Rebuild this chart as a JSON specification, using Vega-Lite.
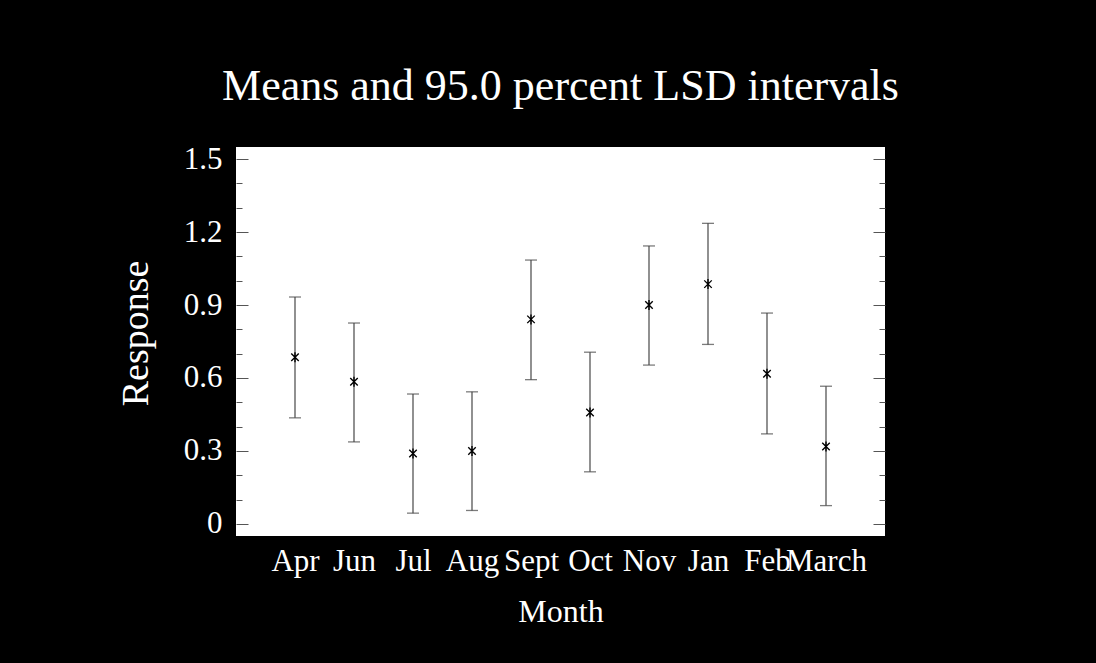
{
  "$schema": "https://vega.github.io/schema/vega-lite/v6.json",
  "autosize": "none",
  "width": 649,
  "height": 389,
  "padding": {"left": 236, "top": 147, "right": 211, "bottom": 127},
  "background": "black",
  "title": {
    "text": "Means and 95.0 percent LSD intervals",
    "font": "Liberation Serif",
    "fontSize": 44,
    "fontWeight": "normal",
    "color": "white",
    "anchor": "middle",
    "baseline": "alphabetic",
    "offset": -1
  },
  "config": {
    "view": {"fill": "white", "stroke": null},
    "axis": {"grid": false, "labelFont": "Liberation Serif", "titleFont": "Liberation Serif", "titleFontWeight": "normal"}
  },
  "data": {
    "values": [
      {"Month": "Apr", "mean": 0.685, "lower": 0.436, "upper": 0.933},
      {"Month": "Jun", "mean": 0.584, "lower": 0.337, "upper": 0.826},
      {"Month": "Jul", "mean": 0.289, "lower": 0.044, "upper": 0.534},
      {"Month": "Aug", "mean": 0.300, "lower": 0.055, "upper": 0.543},
      {"Month": "Sept", "mean": 0.841, "lower": 0.593, "upper": 1.085},
      {"Month": "Oct", "mean": 0.458, "lower": 0.214, "upper": 0.706},
      {"Month": "Nov", "mean": 0.900, "lower": 0.653, "upper": 1.143},
      {"Month": "Jan", "mean": 0.986, "lower": 0.738, "upper": 1.236},
      {"Month": "Feb", "mean": 0.617, "lower": 0.370, "upper": 0.867},
      {"Month": "March", "mean": 0.318, "lower": 0.075, "upper": 0.566}
    ]
  },
  "encoding": {
    "x": {
      "field": "Month",
      "type": "nominal",
      "sort": null,
      "scale": {"type": "point", "padding": 1.34},
      "axis": {
        "title": "Month",
        "labelAngle": 0,
        "labelColor": "white",
        "labelFontSize": 31,
        "labelPadding": 10,
        "labelOverlap": false,
        "labelBaseline": "top",
        "ticks": false,
        "domain": false,
        "titleColor": "white",
        "titleFontSize": 32,
        "titlePadding": 20
      }
    }
  },
  "layer": [
    {
      "mark": {"type": "rule", "color": "#555555", "strokeWidth": 1.3},
      "encoding": {
        "y": {
          "field": "lower",
          "type": "quantitative",
          "scale": {"domain": [-0.05, 1.55], "nice": false, "zero": false},
          "axis": {
            "orient": "left",
            "values": [0, 0.3, 0.6, 0.9, 1.2, 1.5],
            "labelExpr": "datum.value == 0 ? '0' : format(datum.value, '.1f')",
            "tickSize": -12,
            "tickColor": "#555555",
            "domain": false,
            "labelColor": "white",
            "labelFontSize": 31,
            "labelPadding": 26,
            "labelBaseline": "middle",
            "title": "Response",
            "titleColor": "white",
            "titleFontSize": 38,
            "titlePadding": 28,
            "titleY": 186
          }
        },
        "y2": {"field": "upper"}
      }
    },
    {
      "mark": {"type": "tick", "color": "#444444", "thickness": 1.3, "size": 12, "orient": "horizontal"},
      "encoding": {
        "y": {
          "field": "upper",
          "type": "quantitative",
          "scale": {"domain": [-0.05, 1.55], "nice": false, "zero": false},
          "axis": {
            "orient": "left",
            "values": [0.1, 0.2, 0.4, 0.5, 0.7, 0.8, 1.0, 1.1, 1.3, 1.4],
            "labels": false,
            "tickSize": -6,
            "tickColor": "#555555",
            "domain": false,
            "title": null
          }
        }
      }
    },
    {
      "mark": {"type": "tick", "color": "#444444", "thickness": 1.3, "size": 12, "orient": "horizontal"},
      "encoding": {
        "y": {
          "field": "lower",
          "type": "quantitative",
          "scale": {"domain": [-0.05, 1.55], "nice": false, "zero": false},
          "axis": {
            "orient": "right",
            "values": [0, 0.3, 0.6, 0.9, 1.2, 1.5],
            "labels": false,
            "tickSize": -12,
            "tickColor": "#555555",
            "domain": false,
            "title": null
          }
        }
      }
    },
    {
      "mark": {"type": "point", "shape": "M0,-1L0,1M-0.75,-0.75L0.75,0.75M-0.75,0.75L0.75,-0.75", "color": "black", "strokeWidth": 1.4, "size": 100, "filled": false, "opacity": 1},
      "encoding": {
        "y": {
          "field": "mean",
          "type": "quantitative",
          "scale": {"domain": [-0.05, 1.55], "nice": false, "zero": false},
          "axis": {
            "orient": "right",
            "values": [0.1, 0.2, 0.4, 0.5, 0.7, 0.8, 1.0, 1.1, 1.3, 1.4],
            "labels": false,
            "tickSize": -6,
            "tickColor": "#555555",
            "domain": false,
            "title": null
          }
        }
      }
    }
  ],
  "resolve": {"axis": {"y": "independent"}}
}
